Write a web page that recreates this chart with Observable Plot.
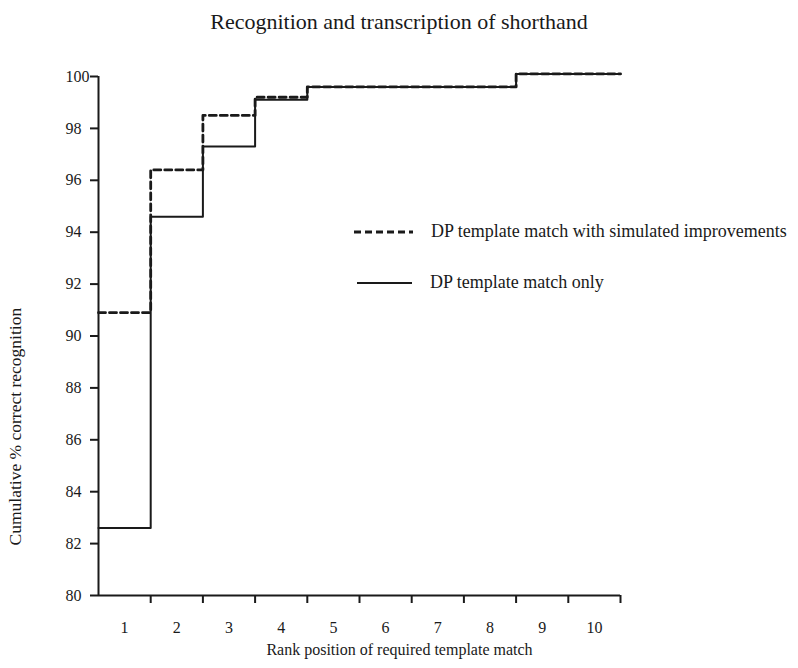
<!DOCTYPE html>
<html>
<head>
<meta charset="utf-8">
<script src="https://cdn.jsdelivr.net/npm/d3@7"></script>
<script src="https://cdn.jsdelivr.net/npm/@observablehq/plot@0.6"></script>
<style>
  html, body { margin: 0; padding: 0; background: #fff; }
  #wrap { position: relative; width: 798px; height: 668px; font-family: "Liberation Serif", "DejaVu Serif", serif; color: #1a1a1a; }
  #title { height: 45px; line-height: 44px; text-align: center; font-size: 22px; }
  .legend { position: absolute; font-size: 18px; display: flex; align-items: center; white-space: nowrap; }
  .legend svg { margin-right: 18px; }
</style>
</head>
<body>
<div id="wrap">
  <div id="title">Recognition and transcription of shorthand</div>
  <div id="chart"></div>
  <div class="legend" id="leg1" style="left:354px; top:221px;"></div>
  <div class="legend" id="leg2" style="left:357px; top:272px;"></div>
</div>
<script>
const ranks = [1, 2, 3, 4, 5, 6, 7, 8, 9, 10];
const dpOnly = [82.6, 94.6, 97.3, 99.1, 99.6, 99.6, 99.6, 99.6, 100.1, 100.1];
const dpImproved = [90.9, 96.4, 98.5, 99.2, 99.6, 99.6, 99.6, 99.6, 100.1, 100.1];
const yTicks = [80, 82, 84, 86, 88, 90, 92, 94, 96, 98, 100];
const seriesNames = ["DP template match with simulated improvements", "DP template match only"];
const xLabel = "Rank position of required template match";
const yLabel = "Cumulative % correct recognition";

function steps(values) {
  const pts = ranks.map((r, i) => ({x: r - 0.5, y: values[i]}));
  pts.push({x: ranks[ranks.length - 1] + 0.5, y: values[values.length - 1]});
  return pts;
}
const boundaries = ranks.map(r => r + 0.5);
const ink = "#1a1a1a";

const chart = Plot.plot({
  width: 798,
  height: 623,
  marginLeft: 98,
  marginRight: 178,
  marginTop: 31,
  marginBottom: 73,
  style: {fontFamily: '"Liberation Serif", serif', fontSize: "16px", color: ink, background: "#fff"},
  x: {type: "linear", domain: [0.5, 10.5]},
  y: {type: "linear", domain: [80, 100]},
  marks: [
    Plot.ruleX([0.5], {y1: 80, y2: 100, stroke: ink, strokeWidth: 2}),
    Plot.ruleY([80], {x1: 0.5, x2: 10.5, stroke: ink, strokeWidth: 2}),
    Plot.axisY({ticks: yTicks, tickSize: 8, tickFormat: () => "", label: null, stroke: ink, strokeWidth: 2}),
    Plot.axisY({ticks: yTicks, tickSize: 0, tickPadding: 33, textAnchor: "start", label: null, fill: ink, fontSize: 16}),
    Plot.axisX({ticks: boundaries, tickSize: 8, tickFormat: () => "", label: null, stroke: ink, strokeWidth: 2}),
    Plot.axisX({ticks: ranks, tickSize: 0, tickPadding: 26, label: null, fill: ink, fontSize: 16}),
    Plot.line(steps(dpOnly), {x: "x", y: "y", curve: "step-after", stroke: ink, strokeWidth: 2}),
    Plot.line(steps(dpImproved), {x: "x", y: "y", curve: "step-after", stroke: ink, strokeWidth: 2.8, strokeDasharray: "7,4"}),
    Plot.text([xLabel], {frameAnchor: "bottom", dx: 40, dy: 59, fill: ink, fontSize: 16}),
    Plot.text([yLabel], {frameAnchor: "bottom-left", rotate: -90, textAnchor: "start", dx: -78, dy: -50, fill: ink, fontSize: 17.5})
  ]
});
document.getElementById("chart").appendChild(chart);

function legendItem(id, name, dash, sw, w) {
  const el = document.getElementById(id);
  const ns = "http://www.w3.org/2000/svg";
  const s = document.createElementNS(ns, "svg");
  s.setAttribute("width", w); s.setAttribute("height", 10);
  const l = document.createElementNS(ns, "line");
  l.setAttribute("x1", 0); l.setAttribute("x2", w); l.setAttribute("y1", 5); l.setAttribute("y2", 5);
  l.setAttribute("stroke", ink); l.setAttribute("stroke-width", sw);
  if (dash) l.setAttribute("stroke-dasharray", dash);
  s.appendChild(l);
  el.appendChild(s);
  const t = document.createElement("span");
  t.textContent = name;
  el.appendChild(t);
}
legendItem("leg1", seriesNames[0], "7,4", 2.8, 59);
legendItem("leg2", seriesNames[1], null, 2, 55);
</script>
</body>
</html>
